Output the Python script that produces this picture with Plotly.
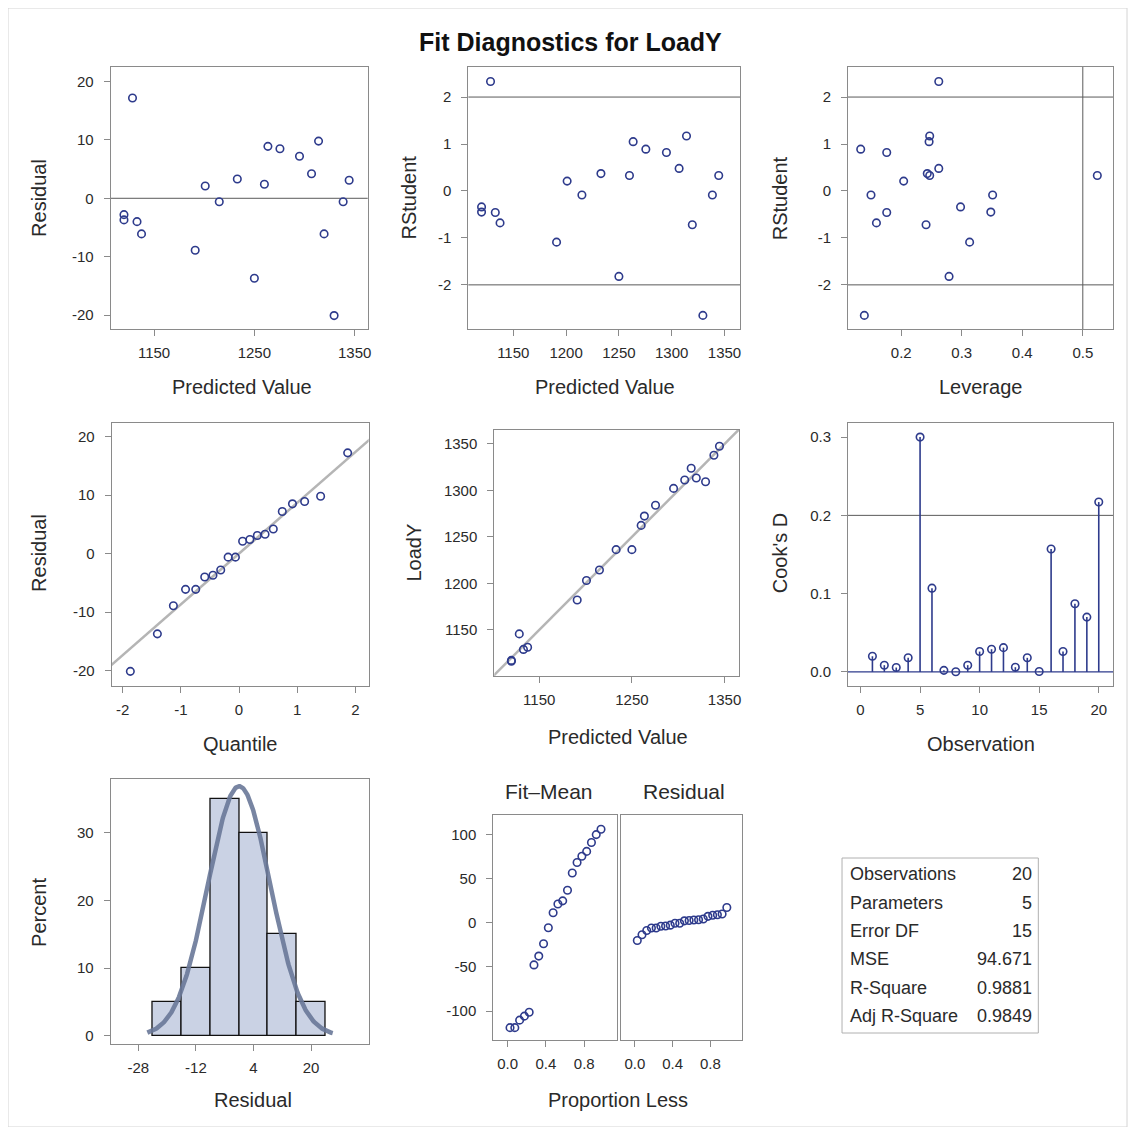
import numpy as np
import plotly.graph_objects as go
from statistics import NormalDist

# ---------------- data (per observation 1..20) ----------------
observation = list(range(1, 21))
predicted = [1137.5, 1120.0, 1260.0, 1307.0, 1128.5, 1191.0, 1201.0, 1215.0, 1133.0, 1275.5,
             1295.0, 1319.5, 1233.0, 1120.0, 1338.5, 1329.5, 1344.5, 1314.0, 1263.5, 1250.0]
residual = [-6.1, -2.8, 2.4, 4.2, 17.2, -8.9, 2.1, -0.6, -4.0, 8.5,
            7.2, -6.1, 3.3, -3.7, -0.6, -20.1, 3.1, 9.8, 8.9, -13.7]
rstudent = [-0.68, -0.34, 0.33, 0.48, 2.33, -1.09, 0.21, -0.085, -0.46, 0.89,
            0.82, -0.72, 0.37, -0.45, -0.085, -2.65, 0.33, 1.17, 1.05, -1.82]
leverage = [0.159, 0.298, 0.247, 0.262, 0.262, 0.313, 0.204, 0.150, 0.176, 0.133,
            0.176, 0.241, 0.243, 0.348, 0.351, 0.139, 0.524, 0.247, 0.246, 0.279]
cooks_d = [0.020, 0.0086, 0.0056, 0.018, 0.300, 0.107, 0.002, 0.0003, 0.0086, 0.026,
           0.029, 0.031, 0.006, 0.018, 0.0005, 0.157, 0.026, 0.087, 0.070, 0.217]

stat_labels = ["Observations", "Parameters", "Error DF", "MSE", "R-Square", "Adj R-Square"]
stat_values = ["20", "5", "15", "94.671", "0.9881", "0.9849"]

hist_bin_start, hist_bin_end, hist_bin_size = -24, 24, 8

# ---------------- derived quantities ----------------
pred = np.array(predicted)
res = np.array(residual)
loady = pred + res
n = len(res)
mean_y = loady.mean()
fit_mean_sorted = np.sort(pred - mean_y)
res_sorted = np.sort(res)
prop_less = (np.arange(1, n + 1) - 0.5) / n
nd = NormalDist()
blom = np.array([nd.inv_cdf((i - 0.375) / (n + 0.25)) for i in range(1, n + 1)])
sigma = res.std(ddof=1)

# ---------------- layout helpers ----------------
OFF = 8
W, H = 1123, 1119
def fx(p): return (p - OFF) / W
def fy(p): return 1 - (p - OFF) / H

FONT = "Liberation Sans, Arial, sans-serif"
MK = "#2e3b8c"
FRAME = "#8a8a8a"
REF = "#5a5a5a"
TICKF = dict(family=FONT, size=15, color="#2a2a2a")
TSZ = 20

fig = go.Figure()
layout = {}
annotations = []
shapes = []

def lab(vals, fmt="{:g}"):
    return [fmt.format(v) for v in vals]

def add_axes(i, xdom, ydom, xr, yr, xt, yt, xfmt="{:g}", yfmt="{:g}", show_yticks=True):
    xs = "xaxis" if i == 1 else f"xaxis{i}"
    ys = "yaxis" if i == 1 else f"yaxis{i}"
    xa = "x" if i == 1 else f"x{i}"
    ya = "y" if i == 1 else f"y{i}"
    common = dict(showline=True, mirror=True, linecolor=FRAME, linewidth=1,
                  showgrid=False, zeroline=False, ticks="outside", ticklen=6,
                  tickcolor=FRAME, tickfont=TICKF, fixedrange=True, tickmode="array")
    layout[xs] = dict(domain=[fx(xdom[0]), fx(xdom[1])], range=xr, anchor=ya,
                      tickvals=xt, ticktext=lab(xt, xfmt), ticklabelstandoff=4, **common)
    layout[ys] = dict(domain=[fy(ydom[1]), fy(ydom[0])], range=yr, anchor=xa,
                      tickvals=yt, ticktext=lab(yt, yfmt), showticklabels=show_yticks,
                      ticklabelstandoff=7, **common)
    if not show_yticks:
        layout[ys]["ticks"] = ""
    return xa, ya

def hline(xa, ya, y, color=REF, width=1):
    shapes.append(dict(type="line", xref=f"{xa} domain", yref=ya, x0=0, x1=1, y0=y, y1=y,
                       line=dict(color=color, width=width), layer="below"))

def vline(xa, ya, x, color=REF, width=1):
    shapes.append(dict(type="line", xref=xa, yref=f"{ya} domain", x0=x, x1=x, y0=0, y1=1,
                       line=dict(color=color, width=width), layer="below"))

def scatter(xa, ya, x, y):
    fig.add_trace(go.Scatter(x=x, y=y, mode="markers", xaxis=xa, yaxis=ya,
                             marker=dict(symbol="circle-open", size=7.5, color=MK,
                                         line=dict(width=1.6, color=MK)),
                             showlegend=False, hoverinfo="skip"))

def text(x, y, s, size=TSZ, angle=0, bold=False, xanchor="center"):
    annotations.append(dict(x=fx(x), y=fy(y), xref="paper", yref="paper", text=(f"<b>{s}</b>" if bold else s),
                            showarrow=False, textangle=angle, xanchor=xanchor, yanchor="middle",
                            font=dict(family=FONT, size=size, color="#111111" if bold else "#2a2a2a")))

# ---- Panel 1: Residual vs Predicted
xa, ya = add_axes(1, (111, 369), (67, 329), [1106.7, 1363], [-22.4, 22.5],
                  [1150, 1250, 1350], [-20, -10, 0, 10, 20])
hline(xa, ya, 0)
scatter(xa, ya, pred, res)
text(39, 198, "Residual", angle=-90)
text(243, 387, "Predicted Value")

# ---- Panel 2: RStudent vs Predicted
xa, ya = add_axes(2, (470, 743), (67, 329), [1107.5, 1365], [-2.94, 2.64],
                  [1150, 1200, 1250, 1300, 1350], [-2, -1, 0, 1, 2])
hline(xa, ya, 2); hline(xa, ya, -2)
scatter(xa, ya, pred, rstudent)
text(410, 198, "RStudent", angle=-90)
text(607, 387, "Predicted Value")

# ---- Panel 3: RStudent vs Leverage
xa, ya = add_axes(3, (851, 1117), (67, 329), [0.112, 0.55], [-2.94, 2.64],
                  [0.2, 0.3, 0.4, 0.5], [-2, -1, 0, 1, 2])
hline(xa, ya, 2); hline(xa, ya, -2)
vline(xa, ya, 0.5)
scatter(xa, ya, leverage, rstudent)
text(783, 198, "RStudent", angle=-90)
text(984, 387, "Leverage")

# ---- Panel 4: QQ plot of residuals
xa, ya = add_axes(4, (112, 370), (423, 686), [-2.19, 2.23], [-22.6, 22.3],
                  [-2, -1, 0, 1, 2], [-20, -10, 0, 10, 20])
qx = np.array([-3.0, 3.0])
fig.add_trace(go.Scatter(x=qx, y=res.mean() + sigma * qx, mode="lines", xaxis=xa, yaxis=ya,
                         line=dict(color="#b5b5b5", width=2.5), showlegend=False, hoverinfo="skip"))
scatter(xa, ya, blom, res_sorted)
text(39, 553, "Residual", angle=-90)
text(241, 744, "Quantile")

# ---- Panel 5: LoadY vs Predicted
xa, ya = add_axes(5, (496, 742), (430, 676), [1101.5, 1366], [1100.4, 1365],
                  [1150, 1250, 1350], [1150, 1200, 1250, 1300, 1350])
dx = np.array([1050.0, 1400.0])
fig.add_trace(go.Scatter(x=dx, y=dx, mode="lines", xaxis=xa, yaxis=ya,
                         line=dict(color="#b5b5b5", width=2.5), showlegend=False, hoverinfo="skip"))
scatter(xa, ya, pred, loady)
text(415, 553, "LoadY", angle=-90)
text(620, 737, "Predicted Value")

# ---- Panel 6: Cook's D
xa, ya = add_axes(6, (851, 1117), (423, 686), [-1.05, 21.2], [-0.018, 0.318],
                  [0, 5, 10, 15, 20], [0.0, 0.1, 0.2, 0.3], yfmt="{:.1f}")
hline(xa, ya, 0.2)
hline(xa, ya, 0.0, color=MK, width=1.3)
sx, sy = [], []
for o, d in zip(observation, cooks_d):
    sx += [o, o, None]
    sy += [0, d, None]
fig.add_trace(go.Scatter(x=sx, y=sy, mode="lines", xaxis=xa, yaxis=ya,
                         line=dict(color=MK, width=1.6), showlegend=False, hoverinfo="skip"))
scatter(xa, ya, observation, cooks_d)
text(783, 553, "Cook's D", angle=-90)
text(984, 744, "Observation")

# ---- Panel 7: Histogram of residuals
xa, ya = add_axes(7, (111, 370), (779, 1044), [-35.7, 36], [-1.2, 37.9],
                  [-28, -12, 4, 20], [0, 10, 20, 30])
fig.add_trace(go.Histogram(x=res, histnorm="percent", xaxis=xa, yaxis=ya,
                           xbins=dict(start=hist_bin_start, end=hist_bin_end, size=hist_bin_size),
                           marker=dict(color="#cad2e4", line=dict(color="#111111", width=1.3)),
                           showlegend=False, hoverinfo="skip"))
cx = np.linspace(-25.5, 26, 300)
cy = 100 * hist_bin_size * np.exp(-0.5 * ((cx - res.mean()) / sigma) ** 2) / (sigma * np.sqrt(2 * np.pi))
fig.add_trace(go.Scatter(x=cx, y=cy, mode="lines", xaxis=xa, yaxis=ya,
                         line=dict(color="rgba(105,120,152,0.9)", width=4.5), showlegend=False, hoverinfo="skip"))
text(39, 912, "Percent", angle=-90)
text(254, 1100, "Residual")

# ---- Panel 8: Residual-Fit spread plot
xa, ya = add_axes(8, (495, 619), (815, 1040), [-0.15, 1.14], [-132.8, 121.9],
                  [0.0, 0.4, 0.8], [-100, -50, 0, 50, 100], xfmt="{:.1f}")
scatter(xa, ya, prop_less, fit_mean_sorted)
xa, ya = add_axes(9, (623, 745), (815, 1040), [-0.15, 1.14], [-132.8, 121.9],
                  [0.0, 0.4, 0.8], [-100, -50, 0, 50, 100], xfmt="{:.1f}", show_yticks=False)
scatter(xa, ya, prop_less, res_sorted)
text(551, 791, "Fit–Mean", size=21)
text(686, 791, "Residual", size=21)
text(620, 1100, "Proportion Less")

# ---- Statistics table
shapes.append(dict(type="rect", xref="paper", yref="paper", x0=fx(845), x1=fx(1042), y0=fy(1033), y1=fy(858),
                   line=dict(color="#b0b0b0", width=1), fillcolor="white"))
row_y = [874, 903, 931, 959, 988, 1016]
for ry, lb, val in zip(row_y, stat_labels, stat_values):
    text(851, ry, lb, size=18, xanchor="left")
    text(1038, ry, val, size=18, xanchor="right")

# ---- Title and outer border
text(573, 42, "Fit Diagnostics for LoadY", size=25, bold=True)
shapes.append(dict(type="rect", xref="paper", yref="paper", x0=0, x1=1, y0=0, y1=1,
                   line=dict(color="#d4d4d4", width=1)))

fig.update_layout(width=W, height=H, margin=dict(l=0, r=0, t=0, b=0),
                  paper_bgcolor="white", plot_bgcolor="white",
                  annotations=annotations, shapes=shapes, bargap=0, **layout)
fig.write_html("out.html")
